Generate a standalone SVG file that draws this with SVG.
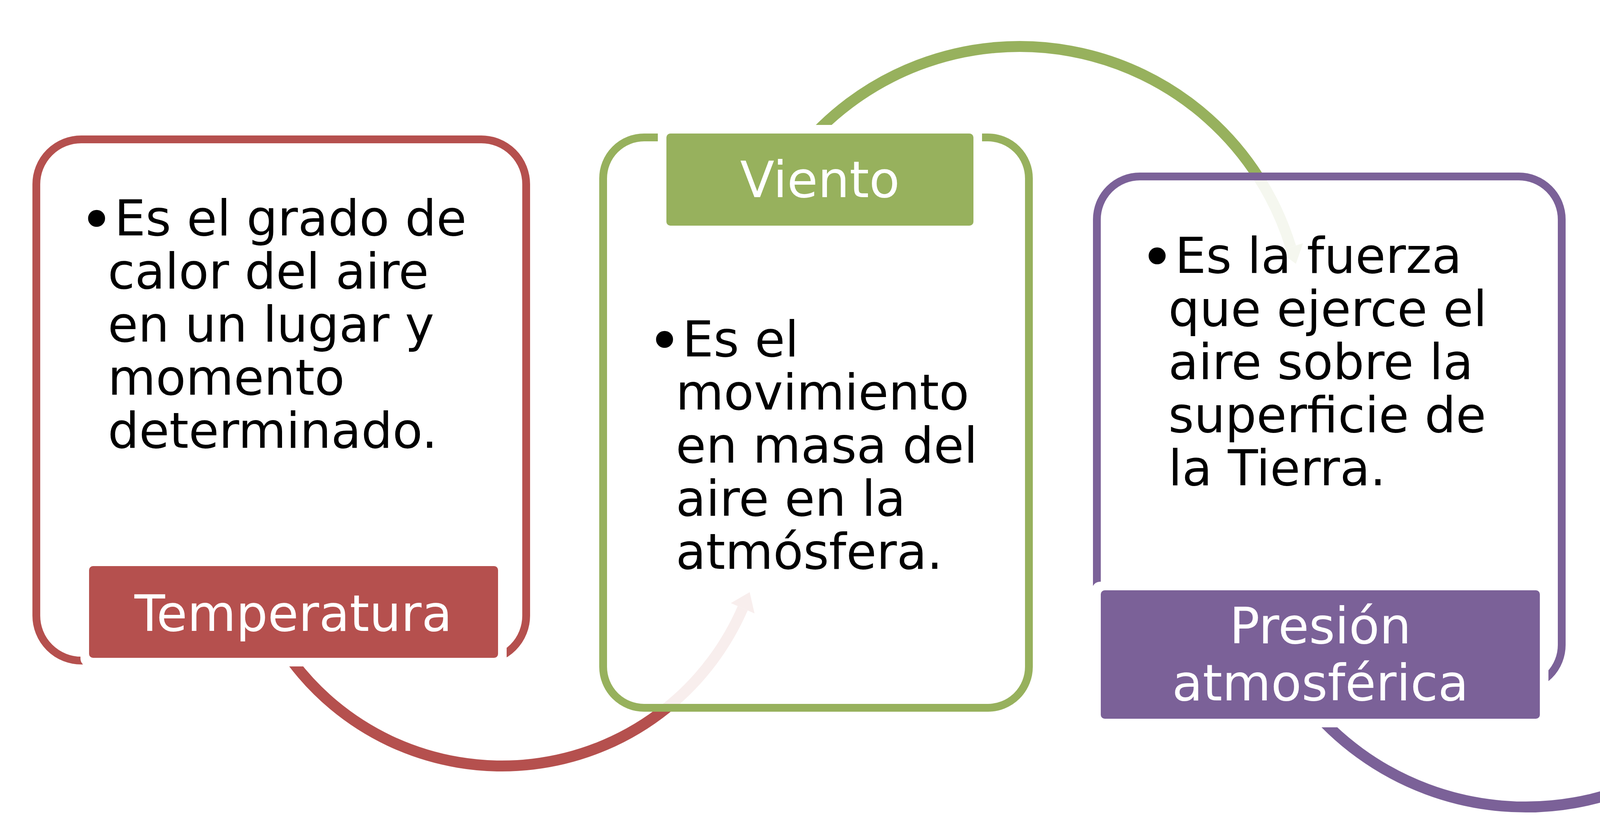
<svg xmlns="http://www.w3.org/2000/svg" width="5409" height="2126" viewBox="0 0 5409 2126">
<style>
.box{fill:#fff;fill-opacity:.9;stroke-width:20}
.gap{fill:#fff}
.body{font-family:"DejaVu Sans",Verdana,sans-serif;font-size:126px;fill:#000}
.bul{font-size:150px}
.lab{font-family:"DejaVu Sans",Verdana,sans-serif;font-size:128px;fill:#fff;text-anchor:middle}
.arc{fill:none;stroke-width:28}
.red{stroke:#B5504E}.redf{fill:#B5504E}
.grn{stroke:#97B15D}.grnf{fill:#97B15D}
.pur{stroke:#7B6198}.purf{fill:#7B6198}
.tea{stroke:#4BA1B6}.teaf{fill:#4BA1B6}
</style>
<rect width="5409" height="2126" fill="#fff"/>
<g id="connectors">
<path class="arc red" d="M 748.3 1694.4 A 672 672 0 0 0 1901.3 1558.0"/>
<polygon class="redf" points="1919.2,1516.7 1931.6,1571.2 1871.0,1544.8"/>
<path class="arc grn" d="M 2036.4 400 A 726 726 0 0 1 3304.3 632.7"/>
<polygon class="grnf" points="3317.5,675.7 3335.9,623.1 3272.7,642.3"/>
<path class="arc pur" d="M 3344.9 1799.4 A 722 722 0 0 0 4588.7 1580.1"/>
<polygon class="purf" points="4603.3,1537.6 4619.9,1590.8 4557.5,1569.4"/>
</g>
<g id="node-temperatura">
<rect class="box red" x="93" y="357" width="1254" height="1335" rx="115"/>
<rect class="gap" x="206" y="1428" width="1091" height="279" rx="20"/>
<rect class="redf" x="228" y="1450" width="1047" height="235" rx="10"/>
<text class="lab" x="751" y="1616">Temperatura</text>
<text class="body"><tspan class="bul" x="203" y="615">•</tspan><tspan x="293" y="603">Es el grado de</tspan><tspan x="276" y="739">calor del aire</tspan><tspan x="276" y="875">en un lugar y</tspan><tspan x="276" y="1011">momento</tspan><tspan x="276" y="1147">determinado.</tspan></text>
</g>
<g id="node-viento">
<rect class="box grn" x="1544" y="352" width="1090" height="1461" rx="105"/>
<rect class="gap" x="1684" y="320" width="830" height="280" rx="20"/>
<rect class="grnf" x="1706" y="342" width="786" height="236" rx="10"/>
<text class="lab" x="2099" y="505">Viento</text>
<text class="body"><tspan class="bul" x="1657" y="925">•</tspan><tspan x="1747" y="913">Es el</tspan><tspan x="1730" y="1049">movimiento</tspan><tspan x="1730" y="1185">en masa del</tspan><tspan x="1730" y="1321">aire en la</tspan><tspan x="1730" y="1457">atmósfera.</tspan></text>
</g>
<g id="node-presion">
<rect class="box pur" x="2808" y="452" width="1190" height="1310" rx="110"/>
<rect class="gap" x="2796" y="1490" width="1168" height="373" rx="20"/>
<rect class="purf" x="2818" y="1512" width="1124" height="329" rx="10"/>
<text class="lab"><tspan x="3380" y="1648">Presión</tspan><tspan x="3380" y="1794">atmosférica</tspan></text>
<text class="body"><tspan class="bul" x="2918" y="711">•</tspan><tspan x="3008" y="699">Es la fuerza</tspan><tspan x="2991" y="835">que ejerce el</tspan><tspan x="2991" y="971">aire sobre la</tspan><tspan x="2991" y="1107">superficie de</tspan><tspan x="2991" y="1243">la Tierra.</tspan></text>
</g>
<g id="node-nubes">
<rect class="box tea" x="4178" y="425" width="1186" height="1369" rx="110"/>
<rect class="gap" x="4336" y="390" width="833" height="282" rx="20"/>
<rect class="teaf" x="4358" y="412" width="789" height="238" rx="10"/>
<text class="lab" x="4752" y="574">Nubes</text>
<text class="body"><tspan class="bul" x="4288" y="969">•</tspan><tspan x="4378" y="957">Son gotas de</tspan><tspan x="4361" y="1093">agua líquida,</tspan><tspan x="4361" y="1229">o helada si</tspan><tspan x="4361" y="1365">están a</tspan><tspan x="4361" y="1501">suficiente</tspan><tspan x="4361" y="1637">altura, en</tspan><tspan x="4361" y="1773">suspensión.</tspan></text>
</g>
</svg>
